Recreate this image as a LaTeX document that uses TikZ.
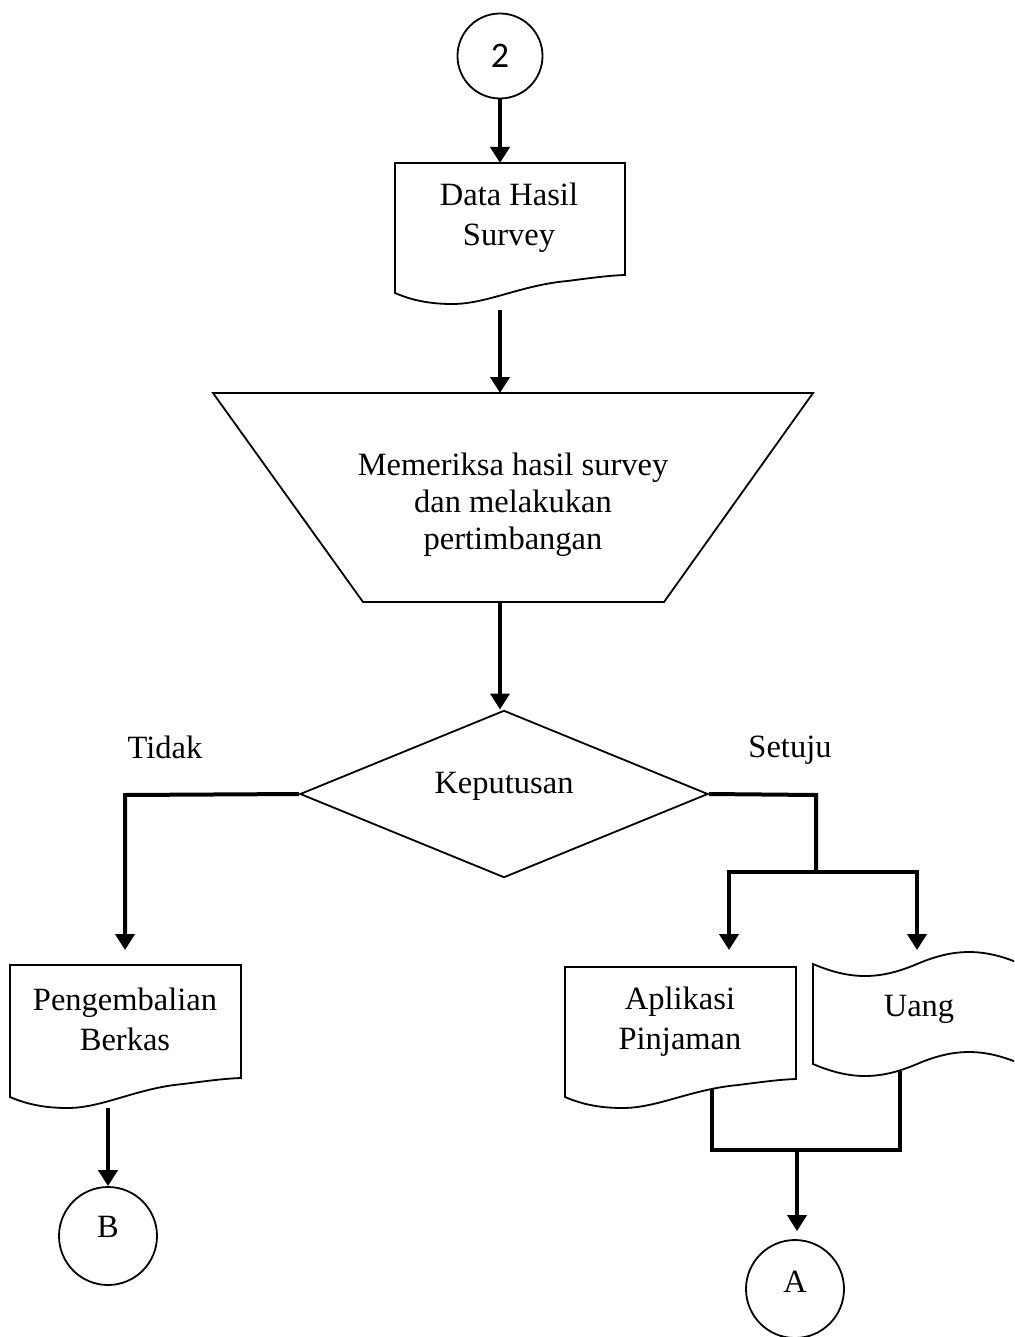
\documentclass[tikz,border=0pt]{standalone}
\usepackage{fontspec}
\setmainfont{Liberation Serif}
\newfontfamily\digitfont{Carlito}
\usetikzlibrary{arrows.meta,shapes.geometric}

% document symbol: left, top, right, bottom-left, bottom-right
\newcommand\docshape[5]{%
  \draw[outline] (#1,#2) -- (#3,#2) -- (#3,#5)
    .. controls ({#1+0.93*(#3-#1)},{#5+0.5}) and ({#1+0.85*(#3-#1)},{#5+3}) .. ({#1+0.75*(#3-#1)},{#5+6})
    .. controls ({#1+0.55*(#3-#1)},{#5+10}) and ({#1+0.4*(#3-#1)},{#4+11}) .. ({#1+0.25*(#3-#1)},{#4+11})
    .. controls ({#1+0.16*(#3-#1)},{#4+11}) and ({#1+0.08*(#3-#1)},{#4+8}) .. (#1,#4) -- cycle;}

% punched tape symbol: left, right, top line, bottom line
\newcommand\tapeshape[4]{%
  \draw[outline] (#1,#3)
    .. controls ({#1+0.18*(#2-#1)},{#3+16}) and ({#1+0.32*(#2-#1)},{#3+16}) .. ({#1+0.5*(#2-#1)},#3)
    .. controls ({#1+0.68*(#2-#1)},{#3-16}) and ({#1+0.82*(#2-#1)},{#3-16}) .. (#2,#3)
    -- (#2,#4)
    .. controls ({#1+0.82*(#2-#1)},{#4-16}) and ({#1+0.68*(#2-#1)},{#4-16}) .. ({#1+0.5*(#2-#1)},#4)
    .. controls ({#1+0.32*(#2-#1)},{#4+16}) and ({#1+0.18*(#2-#1)},{#4+16}) .. (#1,#4) -- cycle;}

\begin{document}
\begin{tikzpicture}[x=1pt,y=-1pt,
  outline/.style={draw=black,line width=1.8pt},
  flow/.style={line width=4pt,-{Triangle[width=19pt,length=16pt]}},
  link/.style={line width=4pt},
  txt/.style={align=center,inner sep=0pt,font=\fontsize{32.5}{40}\selectfont},
  conn/.style={circle,draw,line width=1.8pt,inner sep=0pt,font=\fontsize{32.5}{40}\selectfont},
  decision/.style={diamond,draw,line width=1.8pt,inner sep=0pt,minimum width=408pt,minimum height=156pt,font=\fontsize{32.5}{40}\selectfont},
]
\useasboundingbox (0,0) rectangle (1014,1337);
\clip (0,0) rectangle (1014,1337);

% connector 2
\node[conn,minimum size=85pt] (c2) at (500,56) {\digitfont\fontsize{36}{40}\selectfont 2};

% survey data document
\docshape{395}{163}{625}{293}{275}
\node[txt] (d1) at (509,218) {Data Hasil\\Survey};
\coordinate (d1top) at (500,163);
\coordinate (d1out) at (500,310);

% manual operation
\draw[outline] (213,393) -- (813,393) -- (664,602) -- (363,602) -- cycle;
\node[txt,font=\fontsize{32.5}{37}\selectfont] (tr) at (513,505) {Memeriksa hasil survey\\dan melakukan\\pertimbangan};
\coordinate (trtop) at (500,393);
\coordinate (trout) at (500,602);

% decision
\node[decision] (dec) at (504,794) {\raisebox{8pt}[\height][\depth]{Keputusan}};
\node[txt] (tidak) at (165,747) {Tidak};
\node[txt] (setuju) at (790,750) {Setuju};

% rejected branch
\coordinate (tk) at (125,795);
\coordinate (d2in) at (125,950);
\docshape{10}{965}{241}{1097}{1078}
\node[txt] (d2) at (125,1019) {Pengembalian\\Berkas};
\coordinate (d2out) at (108,1108);
\node[conn,minimum size=98pt] (cB) at (108,1236) {\raisebox{9pt}[\height][\depth]{B}};

% approved branch
\coordinate (sj) at (816,795);
\coordinate (sjs) at (816,872);
\coordinate (sjl) at (729,872);
\coordinate (sjr) at (917,872);
\coordinate (d3in) at (729,950);
\coordinate (tpin) at (917,950);
\docshape{565}{967}{796}{1097}{1079}
\node[txt] (d3) at (680,1022) {Aplikasi\\Pinjaman};
\tapeshape{813}{1021}{964}{1064}
\node[txt] (tp) at (919,1009) {Uang};
\coordinate (d3out) at (712,1089);
\coordinate (tpout) at (900,1071);
\coordinate (mgl) at (712,1150);
\coordinate (mgr) at (900,1150);
\coordinate (mg) at (797,1150);
\node[conn,minimum size=98pt] (cA) at (795,1289) {\raisebox{7pt}[\height][\depth]{A}};

% connectors
\draw[flow] (c2.south) -- (d1top);
\draw[flow] (d1out) -- (trtop);
\draw[flow] (trout) -- (trout |- dec.north);
\draw[flow] (dec.west) -- (tk) -- (d2in);
\draw[flow] (d2out) -- (cB.north);
\draw[link] (dec.east) -- (sj) -- (sjs);
\draw[flow] (sjs) -- (sjl) -- (d3in);
\draw[flow] (sjs) -- (sjr) -- (tpin);
\draw[link] (d3out) -- (mgl) -- (mgr) -- (tpout);
\draw[flow,shorten >=8pt] (mg) -- (mg |- cA.north);
\end{tikzpicture}
\end{document}
